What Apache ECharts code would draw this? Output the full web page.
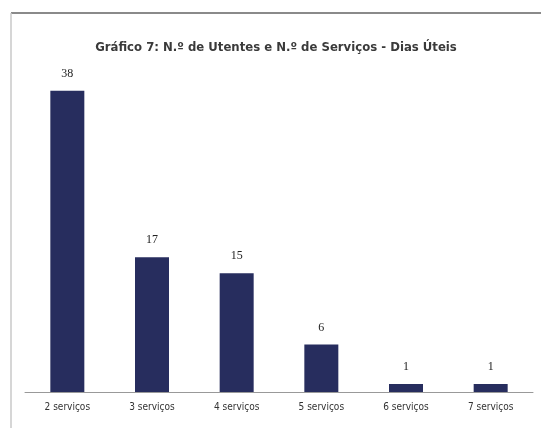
<!DOCTYPE html>
<html><head><meta charset="utf-8">
<style>html,body{margin:0;padding:0;background:#fff}#c{width:541px;height:428px}</style>
<script src="https://cdn.jsdelivr.net/npm/echarts@6/dist/echarts.min.js"></script>
</head><body><div id="c"></div>
<script>
const categories = ['2 serviços','3 serviços','4 serviços','5 serviços','6 serviços','7 serviços'];
const values = [38, 17, 15, 6, 1, 1];
const titleText = 'Gráfico 7: N.º de Utentes e N.º de Serviços - Dias Úteis';

const chart = echarts.init(document.getElementById('c'));
chart.setOption({
  backgroundColor: '#fff',
  animation: false,
  title: {
    text: titleText, left: 271, top: 36, textAlign: 'center',
    textStyle: {fontFamily: '"Liberation Sans Narrow","DejaVu Sans Condensed",sans-serif', fontWeight: 'bold', fontSize: 13, color: '#3a3a3a'}
  },
  graphic: [
    {type: 'line', shape: {x1: 11, y1: 13, x2: 541, y2: 13}, style: {stroke: '#8a8a8a', lineWidth: 2}},
    {type: 'line', shape: {x1: 11, y1: 13, x2: 11, y2: 428}, style: {stroke: '#c8c8c8', lineWidth: 1.5}}
  ],
  grid: {left: 25, right: 8, top: 75, bottom: 36},
  xAxis: {
    type: 'category', data: categories,
    axisLine: {lineStyle: {color: '#999', width: 1}},
    axisTick: {show: false},
    axisLabel: {color: '#333', fontSize: 10, margin: 10, fontFamily: '"Liberation Sans Narrow","DejaVu Sans Condensed",sans-serif'}
  },
  yAxis: {type: 'value', min: 0, max: 40, show: false, splitLine: {show: false}},
  series: [{
    type: 'bar', data: values, barWidth: 34,
    itemStyle: {color: '#272d5e'},
    label: {show: true, position: 'top', distance: 11, color: '#222', fontSize: 12, fontFamily: '"Liberation Serif",serif'}
  }]
});
</script></body></html>
